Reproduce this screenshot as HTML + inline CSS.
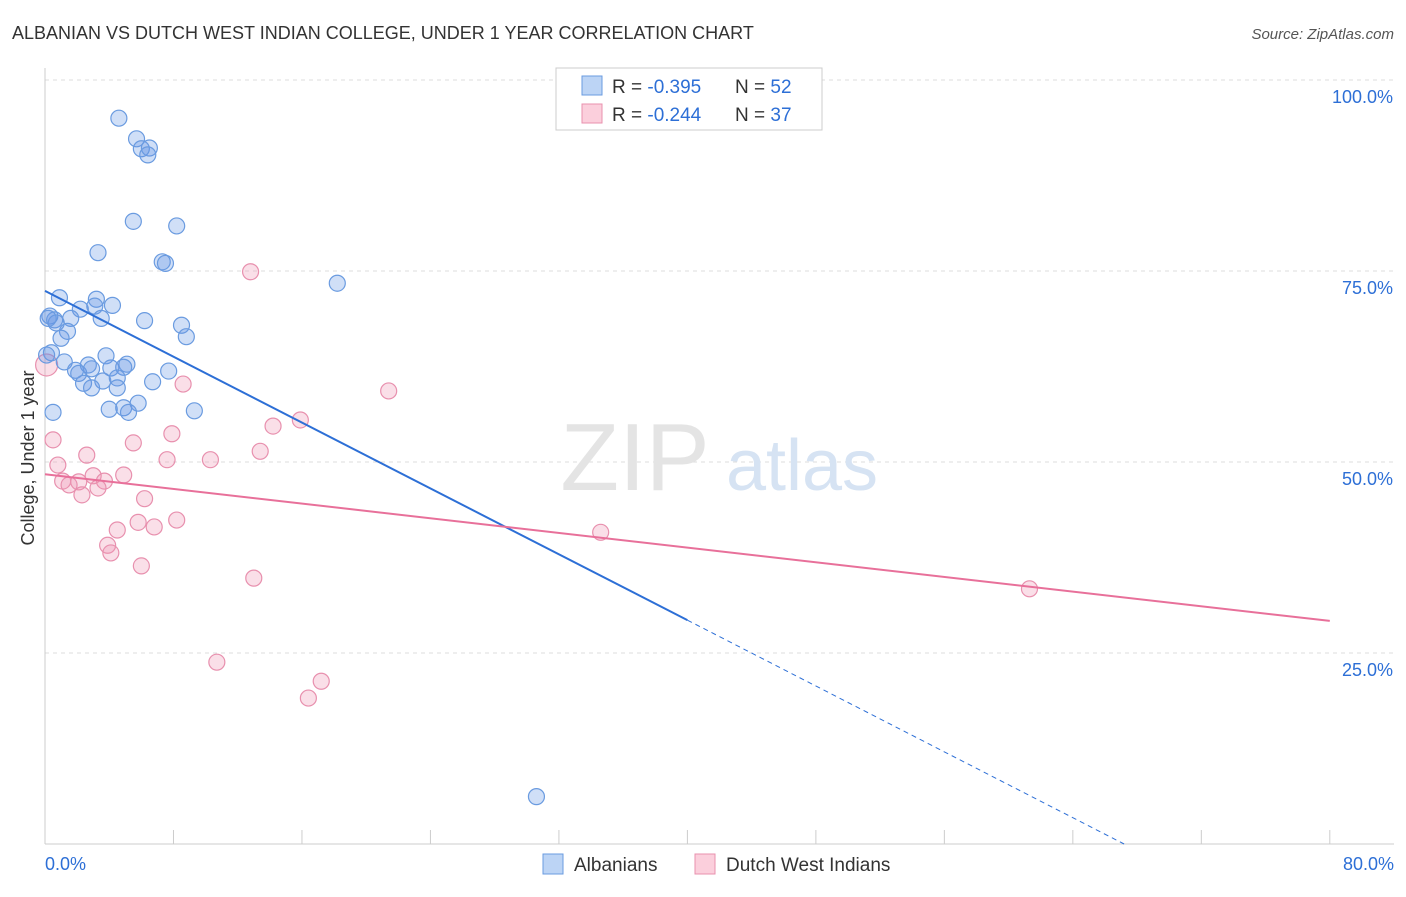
<!DOCTYPE html>
<html><head><meta charset="utf-8"><style>
body{margin:0;background:#fff;font-family:"Liberation Sans",sans-serif;}
svg text{font-family:"Liberation Sans",sans-serif;}
</style></head><body>
<svg id="chart" width="1406" height="892">
<text x="12" y="39" font-size="18" fill="#333">ALBANIAN VS DUTCH WEST INDIAN COLLEGE, UNDER 1 YEAR CORRELATION CHART</text>
<text x="1394" y="39" font-size="15" fill="#555" font-style="italic" text-anchor="end">Source: ZipAtlas.com</text>
<g id="grid"></g>
<text x="635" y="490" font-size="96" fill="#e4e4e4" font-family="Liberation Serif" text-anchor="middle">ZIP</text>
<text x="802" y="490" font-size="72" fill="#d6e3f3" text-anchor="middle">atlas</text>
<g id="axes"></g>
<g id="marks"></g>
<text transform="translate(34,458) rotate(-90)" font-size="18" fill="#333" text-anchor="middle">College, Under 1 year</text>
<g>
<rect x="556" y="68" width="266" height="62" fill="#fff" stroke="#ccc"/>
<rect x="582" y="76" width="20" height="19" fill="#bcd4f5" stroke="#6a9be0"/>
<rect x="582" y="104" width="20" height="19" fill="#fbcfdc" stroke="#e890ae"/>
<text x="612" y="93" font-size="19" fill="#333">R = <tspan fill="#2d6fd6">-0.395</tspan></text>
<text x="735" y="93" font-size="19" fill="#333">N = <tspan fill="#2d6fd6">52</tspan></text>
<text x="612" y="121" font-size="19" fill="#333">R = <tspan fill="#2d6fd6">-0.244</tspan></text>
<text x="735" y="121" font-size="19" fill="#333">N = <tspan fill="#2d6fd6">37</tspan></text>
</g>
<g>
<rect x="543" y="854" width="20" height="20" fill="#bcd4f5" stroke="#6a9be0"/>
<text x="574" y="871" font-size="19" fill="#333">Albanians</text>
<rect x="695" y="854" width="20" height="20" fill="#fbcfdc" stroke="#e890ae"/>
<text x="726" y="871" font-size="19" fill="#333">Dutch West Indians</text>
</g>
</svg>
<script>
const yTicks=[25,50,75,100];
const yTickLabels=["25.0%","50.0%","75.0%","100.0%"];
const xEnds=[0,80];
const xEndLabels=["0.0%","80.0%"];
const blueX=[4.6,5.7,6.0,6.5,6.4,5.5,8.2,3.3,7.3,7.5,18.2,0.9,3.2,4.2,3.1,2.2,0.3,0.6,0.7,1.6,3.5,6.2,8.5,1.4,1.0,8.8,0.4,3.8,1.2,2.7,4.1,5.1,4.9,1.9,7.7,2.1,2.9,3.6,4.5,2.4,4.5,6.7,2.9,5.8,0.5,4.0,4.9,5.2,9.3,30.6,0.2,0.1];
const blueY=[95.0,92.3,91.0,91.1,90.2,81.5,80.9,77.4,76.2,76.0,73.4,71.5,71.3,70.5,70.4,70.0,69.1,68.6,68.2,68.8,68.8,68.5,67.9,67.1,66.2,66.4,64.3,63.9,63.1,62.7,62.3,62.8,62.4,62.0,61.9,61.6,62.2,60.6,61.0,60.3,59.7,60.5,59.7,57.7,56.5,56.9,57.1,56.5,56.7,6.2,68.8,64.0];
const pinkX=[12.8,21.4,8.6,15.9,14.2,7.9,0.5,5.5,13.4,2.6,7.6,10.3,0.8,3.0,4.9,1.1,2.1,3.7,1.5,3.3,2.3,6.2,8.2,5.8,6.8,4.5,34.6,3.9,4.1,6.0,13.0,61.3,10.7,17.2,16.4,0.1];
const pinkY=[74.9,59.3,60.2,55.5,54.7,53.7,52.9,52.5,51.4,50.9,50.3,50.3,49.6,48.2,48.3,47.5,47.4,47.5,47.0,46.6,45.7,45.2,42.4,42.1,41.5,41.1,40.8,39.1,38.1,36.4,34.8,33.4,23.8,21.3,19.1,62.7];
const blueLine=[72.4,29.3];
const pinkLine=[48.4,29.2];
const NS="http://www.w3.org/2000/svg";
const X=v=>45+v*16.06, Y=v=>844-v*7.64;
function mk(tag,attrs,parent){const e=document.createElementNS(NS,tag);for(const k in attrs)e.setAttribute(k,attrs[k]);parent.appendChild(e);return e;}
const grid=document.getElementById('grid'),axes=document.getElementById('axes'),marks=document.getElementById('marks');
yTicks.forEach((t,i)=>{
 const l=mk('line',{x1:45,x2:1394,y1:Y(t),y2:Y(t),stroke:'#ddd','stroke-dasharray':'4,4'},grid);
 
 
 const tx=mk('text',{x:1393,y:Y(t)+23,'font-size':18,fill:'#2d6fd6','text-anchor':'end'},axes);
 tx.textContent=yTickLabels[i];
 
 
});
const ax=mk('line',{x1:45,x2:1394,y1:844,y2:844,stroke:'#ccc'},axes);


const ay=mk('line',{x1:45,x2:45,y1:68,y2:844,stroke:'#ccc'},axes);


for(let i=0;i<=10;i++){
 const t=mk('line',{x1:X(i*8),x2:X(i*8),y1:830,y2:844,stroke:'#ccc'},axes);
 
 
}
xEnds.forEach((v,i)=>{
 const tx=mk('text',{x:i?1394:45,y:870,'font-size':18,fill:'#2d6fd6','text-anchor':i?'end':'start'},axes);
 tx.textContent=xEndLabels[i];
 
 
});
pinkX.forEach((x,i)=>{
 const c=mk('circle',{cx:X(x),cy:Y(pinkY[i]),r:i===pinkX.length-1?11:8,fill:'rgba(240,150,180,0.3)',stroke:'#e890ae','stroke-width':1.2},marks);
 
 
});
blueX.forEach((x,i)=>{
 const c=mk('circle',{cx:X(x),cy:Y(blueY[i]),r:8,fill:'rgba(100,150,230,0.3)',stroke:'#6a9be0','stroke-width':1.2},marks);
 
 
});
const slope=(blueLine[1]-blueLine[0])/40;
const xz=-blueLine[0]/slope;
const bl=mk('line',{x1:X(0),y1:Y(blueLine[0]),x2:X(40),y2:Y(blueLine[1]),stroke:'#2d6fd6','stroke-width':2},marks);


const bd=mk('line',{x1:X(40),y1:Y(blueLine[1]),x2:X(xz),y2:Y(0),stroke:'#2d6fd6','stroke-width':1,'stroke-dasharray':'5,4'},marks);


const pl=mk('line',{x1:X(0),y1:Y(pinkLine[0]),x2:X(80),y2:Y(pinkLine[1]),stroke:'#e8709a','stroke-width':2},marks);


</script>
</body></html>
